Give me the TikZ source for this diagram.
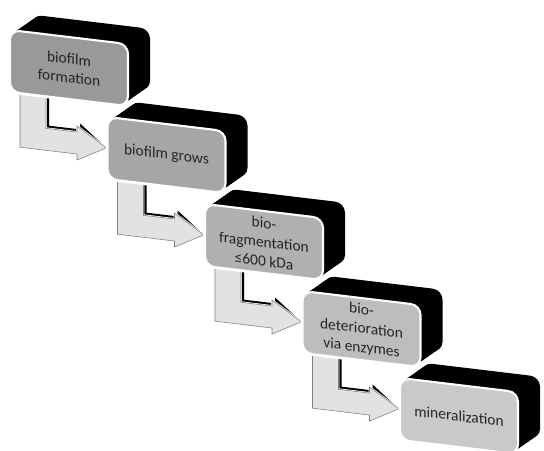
\documentclass[tikz,border=0pt]{standalone}
\usepackage{fontspec}
\setmainfont{Carlito}
\usetikzlibrary{backgrounds}
\definecolor{arrowfill}{HTML}{E2E2E2}

\begin{document}
\begin{tikzpicture}[x=0.025cm,y=0.025cm,
    stage/.style={draw=white, line width=1.5pt, rounded corners=7pt,
      minimum width=2.95cm, minimum height=1.55cm, inner sep=1pt,
      align=center, text=black!85, transform shape,
      font=\fontsize{11}{13.5}\selectfont},
    elbow/.style={fill=arrowfill, draw=black!50, line width=0.4pt,
      preaction={draw=white, line width=1.4pt}}]
  \useasboundingbox (0,0) rectangle (544,451);

  % the five stages, each with its black depth
  \foreach \i/\txt/\tone in {1/{biofilm\\formation}/40, 2/{biofilm grows}/35,
      3/{bio-\\fragmentation\\≤600 kDa}/31, 4/{bio-\\deterioration\\via enzymes}/26,
      5/{mineralization}/21} {
    \begin{scope}[shift={({10+97.5*(\i-1)},{421-87*(\i-1)})}, yslant=-0.12]
      \foreach \k in {0,...,10}
        \draw[white, line width=2.5pt, rounded corners=7pt] (2.2*\k,1.8*\k) rectangle +(118,-62);
      \foreach \k in {0,...,10}
        \fill[black, rounded corners=7pt] (2.2*\k,1.8*\k) rectangle +(118,-62);
      \node[stage, fill=black!\tone] (b\i) at (59,-31) {\txt};
    \end{scope}
  }

  % bent arrows behind the stages
  \begin{pgfonlayer}{background}
    \foreach \i/\j in {1/2, 2/3, 3/4, 4/5} {
      \begin{scope}[shift={({10+97.5*(\i-1)},{421-87*(\i-1)})}, yslant=-0.12]
        \fill[black] (13,-48) -- (13,-113) -- (70,-113) -- (70,-117) -- (b\j.west)
          -- (70,-85) -- (70,-91) -- (39,-91) -- (39,-48) -- cycle;
        \draw[elbow] (10,-50) -- (10,-116) -- (67,-116) -- (67,-122) -- (b\j.west)
          -- (67,-88) -- (67,-94) -- (36,-94) -- (36,-50) -- cycle;
      \end{scope}
    }
  \end{pgfonlayer}
\end{tikzpicture}
\end{document}
